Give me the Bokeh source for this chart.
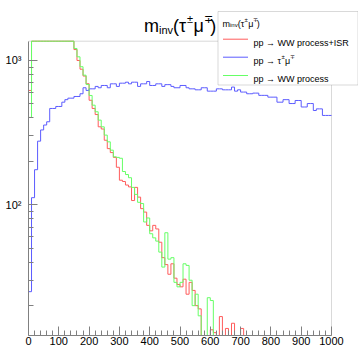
import numpy as np
from bokeh.plotting import figure
from bokeh.models import Range1d, FixedTicker, Label, BoxAnnotation, Arrow
from bokeh.embed import file_html
from bokeh.resources import INLINE

# ---------------- data (bins of 10 GeV, 0..1000) ----------------
bin_low = list(range(0, 1000, 10))
bin_high_edge = 1000

# pp -> tau mu (blue)
tau_mu = [25, 112, 175, 276, 330, 357, 376, 465, 465, 480,
          480, 514, 535, 548, 548, 563, 563, 588, 647, 620,
          636, 636, 661, 647, 671, 671, 647, 689, 689, 661,
          696, 696, 707, 689, 707, 707, 661, 689, 689, 715,
          671, 671, 689, 689, 661, 680, 680, 661, 647, 647,
          671, 671, 647, 636, 636, 626, 626, 647, 647, 613,
          613, 613, 636, 636, 626, 626, 626, 654, 613, 626,
          604, 604, 588, 588, 594, 594, 573, 573, 573, 557,
          557, 557, 514, 514, 535, 535, 503, 503, 528, 528,
          476, 476, 503, 503, 450, 462, 462, 416, 416, 416]

# pp -> WW process + ISR (red)
ww_isr = [620, 2000, 3000, 4000, 4800, 5200, 5200, 4800, 4200, 3600,
          3000, 2500, 2000, 1700, 1450, 1190, 1000, 870, 780, 690,
          530, 465, 422, 347, 335, 280, 245, 230, 213, 182,
          148, 145, 137, 133, 107, 132, 113, 94, 89, 72,
          66, 72, 68, 55, 43, 38.5, 33, 39, 31, 28,
          27, 30.5, 24, 29, 25.5, 20, 19, 0, 0, 0,
          13.6, 13, 0, 16.8, 0, 13.9, 0, 15.1, 0, 0,
          13.9, 0, 0, 0, 0, 0, 0, 0, 0, 0,
          0, 0, 0, 0, 0, 0, 0, 0, 0, 0,
          0, 0, 0, 0, 0, 0, 0, 0, 0, 0]

# pp -> WW process (green)
ww = [403, 2000, 3000, 4000, 4800, 5200, 5200, 4800, 4200, 3600,
      3000, 2500, 2000, 1700, 1450, 1211, 1060, 905, 791, 682,
      572, 490, 441, 386, 347, 304, 273, 239, 215, 213,
      210, 170, 162, 154, 132, 118, 104, 102, 76, 81,
      63, 59, 56, 47, 37, 64, 42, 43, 29, 27,
      29, 39, 38, 30, 20, 24, 17, 0, 0, 22.7,
      21.7, 0, 0, 0, 0, 0, 0, 0, 0, 0,
      0, 0, 0, 0, 0, 0, 0, 0, 0, 0,
      0, 0, 0, 0, 0, 0, 0, 0, 0, 0,
      0, 0, 0, 0, 0, 0, 0, 0, 0, 0]

x_ticks = list(range(0, 1001, 100))
x_minor_ticks = [v for v in range(0, 1001, 20) if v % 100]
y_ticks = [100, 1000]
y_tick_labels = ["10\u00b2", "10\u00b3"]
y_minor_ticks = [20, 30, 40, 50, 60, 70, 80, 90, 200, 300, 400, 500, 600, 700, 800, 900]

X_MIN, X_MAX = 0.0, 1000.0
Y_MIN, Y_MAX = 12.42, 1360.0

RED = "#ff5c5c"
BLUE = "#5c5cff"
GREEN = "#66ff66"
GRAY = "#808080"
FONT = "Liberation Sans"

# ---------------- layout (canvas pixels) ----------------
W, H = 358, 349
VIS_L, VIS_R, VIS_T, VIS_B = 28.0, 331.0, 40.7, 335.0   # visible ROOT frame
x_end = X_MIN + (X_MAX - X_MIN) * (W - VIS_L) / (VIS_R - VIS_L)
lmin, lmax = np.log10(Y_MIN), np.log10(Y_MAX)
y_top = 10 ** (lmax + (lmax - lmin) * VIS_T / (VIS_B - VIS_T))

p = figure(frame_width=int(W - VIS_L), frame_height=int(VIS_B),
           x_range=Range1d(X_MIN, x_end), y_range=Range1d(Y_MIN, y_top),
           y_axis_type="log", output_backend="svg", toolbar_location=None,
           min_border_left=int(VIS_L), min_border_right=0, min_border_top=0,
           min_border_bottom=int(H - VIS_B))
p.background_fill_color = "white"
p.border_fill_color = "white"
p.grid.visible = False
p.outline_line_color = None

for ax in (p.xaxis[0], p.yaxis[0]):
    ax.axis_line_color = GRAY
    ax.major_tick_line_color = GRAY
    ax.minor_tick_line_color = GRAY
    ax.major_tick_in = 9
    ax.major_tick_out = 0
    ax.minor_tick_in = 5
    ax.minor_tick_out = 0
    ax.major_label_text_font = FONT
    ax.major_label_text_font_size = "11px"
    ax.major_label_text_color = "black"

p.xaxis.ticker = FixedTicker(ticks=x_ticks, minor_ticks=x_minor_ticks)
p.xaxis.bounds = (X_MIN, X_MAX)
p.xaxis.major_label_standoff = 1
p.yaxis.ticker = FixedTicker(ticks=y_ticks, minor_ticks=y_minor_ticks)
p.yaxis.bounds = (Y_MIN, Y_MAX)
p.yaxis.major_label_overrides = {t: lab for t, lab in zip(y_ticks, y_tick_labels)}
p.yaxis.major_label_standoff = 7

# visible frame (top/right edges)
p.add_layout(BoxAnnotation(left=X_MIN, right=X_MAX, bottom=Y_MIN, top=Y_MAX,
                           fill_alpha=0, line_color=GRAY, line_width=1, level="underlay"))


def hist(vals, color):
    v = np.clip(np.asarray(vals, dtype=float), Y_MIN, Y_MAX)
    xs = bin_low + [bin_high_edge]
    ys = list(v) + [v[-1]]
    p.step(xs, ys, mode="after", line_color=color, line_width=1)


hist(ww_isr, RED)
hist(tau_mu, BLUE)
hist(ww, GREEN)

# ---------------- text helpers in canvas pixel coords ----------------
ADV = {"m": 0.833, "i": 0.222, "n": 0.556, "v": 0.5, "(": 0.333, ")": 0.333,
       "\u03c4": 0.44, "\u03bc": 0.576, "\u00b1": 0.584, "\u2213": 0.584,
       "p": 0.556, " ": 0.278, "\u2192": 1.0}


def twidth(s, size):
    return sum(ADV.get(c, 0.55) for c in s) * size


def pieces(x0, base, parts, level="overlay"):
    """parts: list of (text, size, dy); base is the canvas baseline y"""
    x = x0
    for txt, size, dy in parts:
        p.add_layout(Label(x=x - VIS_L, y=VIS_B - (base + dy), x_units="screen", y_units="screen",
                           text=txt, text_font=FONT, text_font_size=f"{size}px",
                           text_baseline="alphabetic", text_align="left", text_color="black",
                           level=level))
        x += twidth(txt, size)


def minv_parts(big, small, sub_dy, sup_dy):
    return [("m", big, 0), ("inv", small, sub_dy), ("(\u03c4", big, 0), ("\u00b1", small, sup_dy),
            ("\u03bc", big, 0), ("\u2213", small, sup_dy), (")", big, 0)]


# title
pieces(143.5, 25, minv_parts(18, 11, 4, -7))

# legend box
p.add_layout(BoxAnnotation(left=217.5 - VIS_L, right=357.5 - VIS_L,
                           top=VIS_B - 11, bottom=VIS_B - 84.5,
                           left_units="screen", right_units="screen", top_units="screen", bottom_units="screen",
                           fill_color="white", fill_alpha=1.0, line_color=GRAY, line_width=1, level="overlay"))
# legend header
pieces(222, 23, minv_parts(9, 6, 1.5, -3.5))

entries = [(RED, [("pp \u2192 WW process+ISR", 9, 0)], 38.7),
           (BLUE, [("pp \u2192 \u03c4", 9, 0), ("\u00b1", 6, -3.5), ("\u03bc", 9, 0), ("\u2213", 6, -3.5)], 56.7),
           (GREEN, [("pp \u2192 WW process", 9, 0)], 75.0)]
for color, parts, yc in entries:
    p.add_layout(Arrow(x_start=222.5 - VIS_L, y_start=VIS_B - yc, x_end=247.5 - VIS_L, y_end=VIS_B - yc,
                       start_units="screen", end_units="screen", end=None, line_color=color, line_width=1,
                       level="overlay"))
    pieces(253, yc + 3.3, parts)

open("out.html", "w").write(file_html(p, INLINE))
